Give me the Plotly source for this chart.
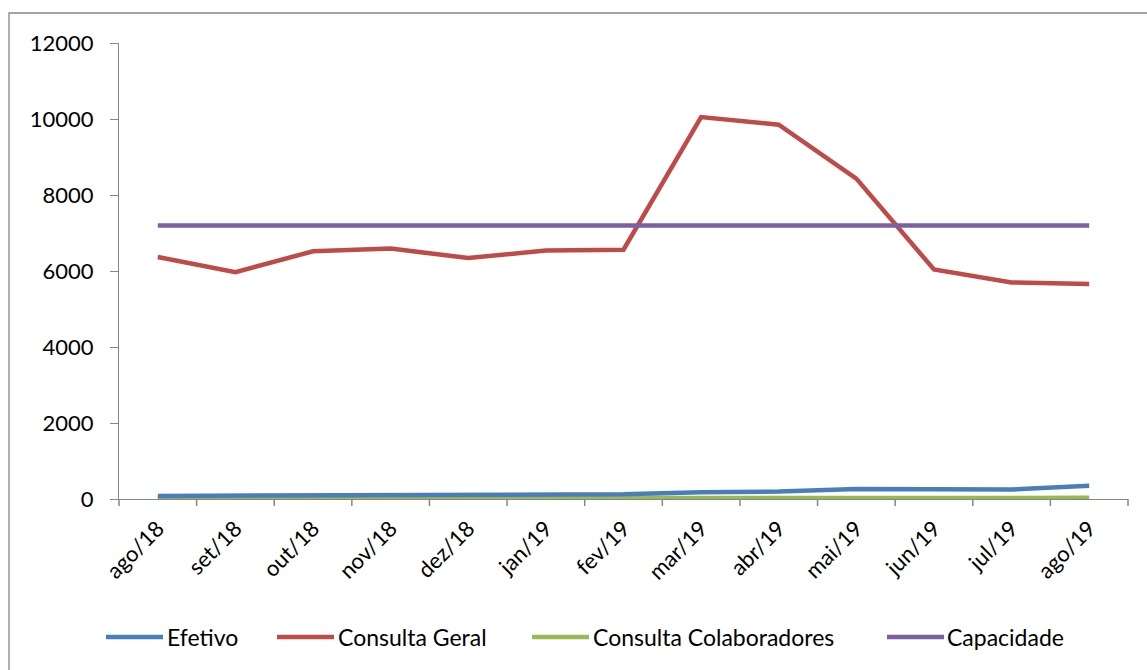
import plotly.graph_objects as go

months = ["ago/18", "set/18", "out/18", "nov/18", "dez/18", "jan/19", "fev/19",
          "mar/19", "abr/19", "mai/19", "jun/19", "jul/19", "ago/19"]

efetivo = [80, 85, 95, 95, 95, 120, 125, 180, 195, 265, 265, 250, 350]
consulta_geral = [6370, 5970, 6520, 6590, 6340, 6540, 6560,
                  10050, 9850, 8430, 6040, 5700, 5660]
consulta_colab = [20, 20, 20, 20, 20, 20, 20, 20, 20, 20, 20, 25, 30]
capacidade = [7200] * 13

series = [
    ("Efetivo", efetivo, "#4A7EBB"),
    ("Consulta Geral", consulta_geral, "#BE4B48"),
    ("Consulta Colaboradores", consulta_colab, "#98B954"),
    ("Capacidade", capacidade, "#7D60A0"),
]

# bottom legend row: left pixel of each swatch and of its label
legend_swatch_px = [106, 277, 532, 887]
legend_text_px = [165, 336, 591, 945]
SWATCH_LEN = 57
LEGEND_Y_PX = 637

font = dict(family="Lato, Open Sans, sans-serif", size=22, color="#000000")
legend_font = dict(family="Lato, Open Sans, sans-serif", size=23, color="#000000")
AXIS_GREY = "#868686"

W, H = 1147, 670
PLOT_L, PLOT_R, PLOT_T, PLOT_B = 119, 1128, 43, 499
PW, PH = PLOT_R - PLOT_L, PLOT_B - PLOT_T
TICK_LEN = 7


def px_x(px):
    return (px - PLOT_L) / PW


def px_y(py):
    return (PLOT_B - py) / PH


xpos = list(range(len(months)))
xrange_ = [-0.5, len(months) - 0.5]
boundaries = [i - 0.5 for i in range(len(months) + 1)]

# draw order: green first so blue sits above it near zero
order = [2, 0, 1, 3]
fig = go.Figure()
for i in order:
    name, vals, color = series[i]
    fig.add_trace(go.Scatter(
        x=xpos, y=vals, name=name, mode="lines",
        line=dict(color=color, width=4.5),
        showlegend=False,
    ))

shapes = [dict(
    type="rect", xref="paper", yref="paper",
    x0=px_x(9), x1=px_x(1160), y0=px_y(680), y1=px_y(13),
    line=dict(color=AXIS_GREY, width=1.3), fillcolor="rgba(0,0,0,0)",
    layer="below",
)]
# category separator ticks hanging below the x axis (paper refs avoid clipping)
for b in boundaries:
    fx = (b - xrange_[0]) / (xrange_[1] - xrange_[0])
    shapes.append(dict(
        type="line", xref="paper", yref="paper",
        x0=fx, x1=fx, y0=0, y1=-TICK_LEN / PH,
        line=dict(color=AXIS_GREY, width=1.5),
    ))

annotations = []
for (name, _, color), sx, tx in zip(series, legend_swatch_px, legend_text_px):
    shapes.append(dict(
        type="line", xref="paper", yref="paper",
        x0=px_x(sx), x1=px_x(sx + SWATCH_LEN),
        y0=px_y(LEGEND_Y_PX), y1=px_y(LEGEND_Y_PX),
        line=dict(color=color, width=4.5),
    ))
    annotations.append(dict(
        text=name, xref="paper", yref="paper",
        x=px_x(tx), y=px_y(LEGEND_Y_PX), xanchor="left", yanchor="middle",
        showarrow=False, font=legend_font,
    ))

fig.update_layout(
    width=W, height=H,
    margin=dict(l=PLOT_L, r=W - PLOT_R, t=PLOT_T, b=H - PLOT_B),
    paper_bgcolor="white", plot_bgcolor="white",
    font=font,
    showlegend=False,
    xaxis=dict(
        range=xrange_,
        tickmode="array", tickvals=xpos, ticktext=months, tickangle=-45,
        showline=True, linecolor=AXIS_GREY, linewidth=1.3,
        ticks="outside", ticklen=TICK_LEN, tickcolor="rgba(0,0,0,0)",
        showgrid=False, zeroline=False, tickfont=font,
    ),
    yaxis=dict(
        range=[0, 12000], tickvals=[0, 2000, 4000, 6000, 8000, 10000, 12000],
        tickformat="d",
        showline=True, linecolor=AXIS_GREY, linewidth=1.3,
        ticks="outside", ticklen=8, tickcolor=AXIS_GREY, tickwidth=1.3,
        showgrid=False, zeroline=False, tickfont=font,
        ticklabelstandoff=12,
    ),
    shapes=shapes,
    annotations=annotations,
)

fig.write_html("out.html")
